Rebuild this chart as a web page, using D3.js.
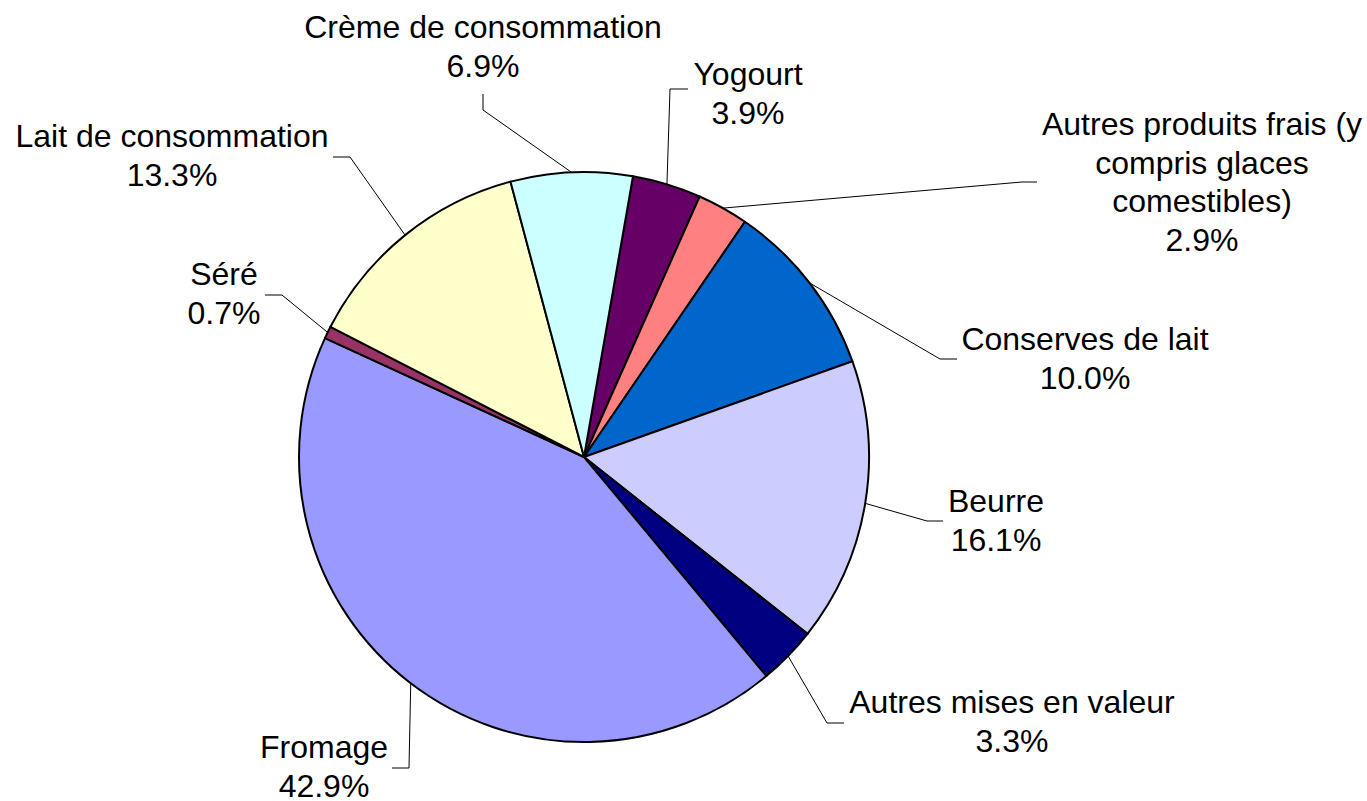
<!DOCTYPE html>
<html lang="fr">
<head>
  <meta charset="UTF-8" />
  <title>Mise en valeur du lait</title>
  <script src="https://d3js.org/d3.v7.min.js"></script>
  <style>
    html, body { margin: 0; padding: 0; background: #fff; }
    svg text { font-family: "Liberation Sans", Arial, sans-serif; font-size: 32px; fill: #000; }
  </style>
</head>
<body>
  <svg id="chart" width="1367" height="801"></svg>

  <script>
    // data (clockwise, starting just right of 12 o'clock)
    const categories = [
      "Yogourt",
      "Autres produits frais (y compris glaces comestibles)",
      "Conserves de lait",
      "Beurre",
      "Autres mises en valeur",
      "Fromage",
      "Séré",
      "Lait de consommation",
      "Crème de consommation"
    ];
    const shares = [3.9, 2.9, 10.0, 16.1, 3.3, 42.9, 0.7, 13.3, 6.9];
    const sliceColors = ["#660066", "#ff8080", "#0066cc", "#ccccff", "#000080",
                         "#9999ff", "#993366", "#ffffcc", "#ccffff"];

    // label placement: text centre x, first baseline, leader elbow and leader end
    const labelLayout = {
      "Yogourt":                { x: 748, y: 85, elbow: [670, 89], end: [688, 89] },
      "Autres produits frais (y compris glaces comestibles)":
                                { x: 1202, y: 135, elbow: [1022, 182], end: [1037, 182], wrap: 335 },
      "Conserves de lait":      { x: 1085, y: 350, elbow: [940, 359], end: [957, 359] },
      "Beurre":                 { x: 996, y: 512, elbow: [927, 521], end: [943, 521] },
      "Autres mises en valeur": { x: 1012, y: 713, elbow: [827, 723], end: [844, 723] },
      "Fromage":                { x: 324, y: 758, elbow: [409, 768], end: [392, 768] },
      "Séré":                   { x: 224, y: 285, elbow: [282, 295], end: [265, 295] },
      "Lait de consommation":   { x: 172, y: 147, elbow: [350, 157], end: [333, 157] },
      "Crème de consommation":  { x: 483, y: 38, elbow: [483, 110], end: [483, 94] }
    };

    const svg = d3.select("#chart");
    const cx = 584, cy = 457, radius = 285;
    const lineHeight = 38.5;
    const startDeg = 9.9;

    const data = categories.map((name, i) => ({ name, value: shares[i], color: sliceColors[i] }));

    const pie = d3.pie()
      .sort(null)
      .value(d => d.value)
      .startAngle(startDeg * Math.PI / 180)
      .endAngle(startDeg * Math.PI / 180 + 2 * Math.PI);

    const arc = d3.arc().innerRadius(0).outerRadius(radius);
    const arcs = pie(data);

    const g = svg.append("g").attr("transform", `translate(${cx},${cy})`);

    g.selectAll("path.slice")
      .data(arcs)
      .join("path")
      .attr("class", "slice")
      .attr("d", arc)
      .attr("fill", d => d.data.color)
      .attr("stroke", "#000")
      .attr("stroke-width", 2)
      .attr("stroke-linejoin", "round");

    // leader lines: from the slice's outer edge at its mid angle to the label
    const edgePoint = d => {
      const a = (d.startAngle + d.endAngle) / 2;
      return [cx + radius * Math.sin(a), cy - radius * Math.cos(a)];
    };

    svg.selectAll("polyline.leader")
      .data(arcs)
      .join("polyline")
      .attr("class", "leader")
      .attr("points", d => {
        const L = labelLayout[d.data.name];
        return [edgePoint(d), L.elbow, L.end].map(p => p.join(",")).join(" ");
      })
      .attr("fill", "none")
      .attr("stroke", "#000")
      .attr("stroke-width", 1);

    const fmt = d3.format(".1f");

    const labels = svg.selectAll("text.label")
      .data(arcs)
      .join("text")
      .attr("class", "label")
      .attr("text-anchor", "middle");

    labels.each(function(d) {
      const L = labelLayout[d.data.name];
      const text = d3.select(this);
      const maxW = L.wrap || 1000;
      // word wrap the category name
      const words = d.data.name.split(" ");
      const lines = [];
      let current = [];
      const probe = text.append("tspan");
      words.forEach(w => {
        const tryLine = current.concat(w).join(" ");
        probe.text(tryLine);
        if (current.length && probe.node().getComputedTextLength() > maxW) {
          lines.push(current.join(" "));
          current = [w];
        } else {
          current.push(w);
        }
      });
      if (current.length) lines.push(current.join(" "));
      probe.remove();
      lines.push(fmt(d.data.value) + "%");

      lines.forEach((ln, i) => {
        text.append("tspan")
          .attr("x", L.x)
          .attr("y", L.y + i * lineHeight)
          .text(ln);
      });
    });
  </script>
</body>
</html>
